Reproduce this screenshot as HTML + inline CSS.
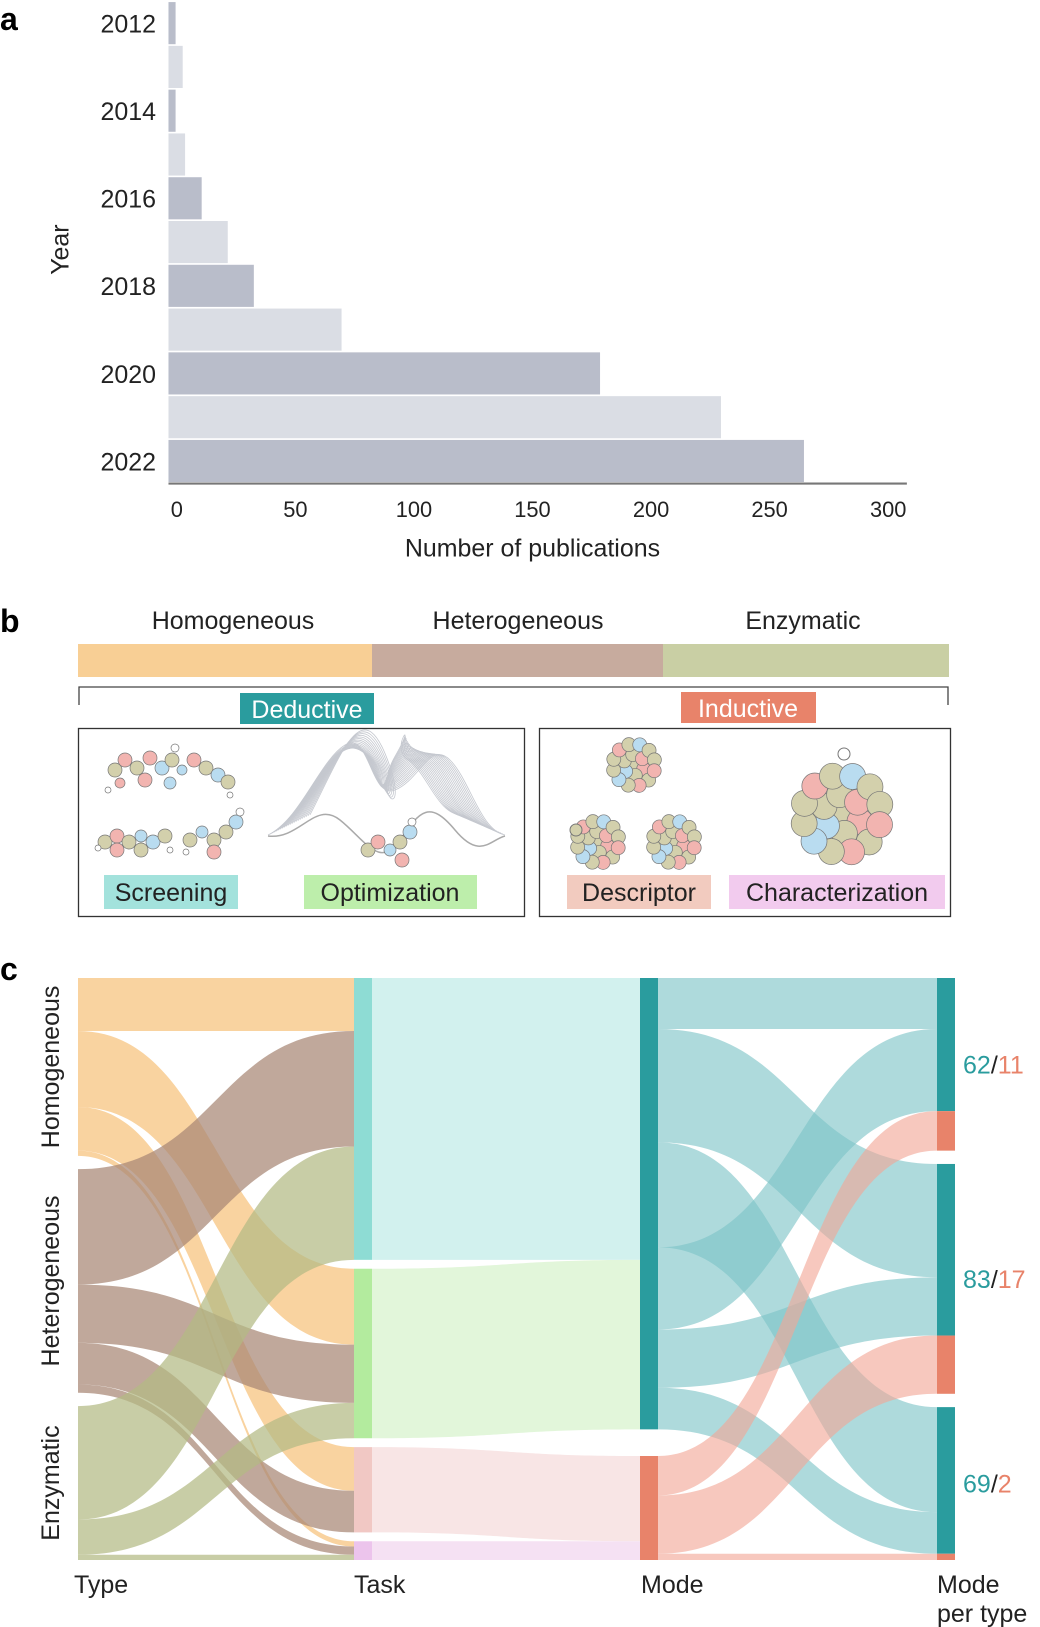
<!DOCTYPE html>
<html><head><meta charset="utf-8">
<style>
body{margin:0;background:#fff;font-family:"Liberation Sans",sans-serif;}
svg{display:block}
</style></head>
<body>
<svg id="fig" width="1040" height="1627" viewBox="0 0 1040 1627" xmlns="http://www.w3.org/2000/svg" font-family="Liberation Sans, sans-serif">
<text x="0" y="30" font-size="32" font-weight="bold">a</text>
<text x="0" y="632" font-size="32" font-weight="bold">b</text>
<text x="0" y="980" font-size="32" font-weight="bold">c</text>
<g id="panelA" transform="scale(1.04)"></g>
<g id="panelB">
 <text x="233" y="629" font-size="25" text-anchor="middle" fill="#222">Homogeneous</text>
 <text x="518" y="629" font-size="25" text-anchor="middle" fill="#222">Heterogeneous</text>
 <text x="803" y="629" font-size="25" text-anchor="middle" fill="#222">Enzymatic</text>
 <rect x="78" y="644" width="294" height="33" fill="#f8cf95"/>
 <rect x="372" y="644" width="291" height="33" fill="#c7ab9e"/>
 <rect x="663" y="644" width="286" height="33" fill="#c9cfa4"/>
 <path d="M79,705 V687 H948 V705" fill="none" stroke="#444" stroke-width="1.3"/>
 <rect x="240" y="693" width="134" height="31" fill="#2a9c9e"/>
 <text x="307" y="718" font-size="25" text-anchor="middle" fill="#fff">Deductive</text>
 <rect x="681" y="692" width="135" height="31" fill="#e8836a"/>
 <text x="748" y="717" font-size="25" text-anchor="middle" fill="#fff">Inductive</text>
 <rect x="78.5" y="728.5" width="446" height="188" fill="none" stroke="#333" stroke-width="1.3"/>
 <rect x="539.5" y="728.5" width="411" height="188" fill="none" stroke="#333" stroke-width="1.3"/>
 <g id="landscape"></g>
 <g id="mols"></g>
 <rect x="104" y="875" width="134" height="34" fill="#a3e2dc"/>
 <text x="171" y="901" font-size="25" text-anchor="middle" fill="#222">Screening</text>
 <rect x="304" y="875" width="173" height="34" fill="#bdeeab"/>
 <text x="390" y="901" font-size="25" text-anchor="middle" fill="#222">Optimization</text>
 <rect x="567" y="875" width="144" height="34" fill="#f2cbbf"/>
 <text x="639" y="901" font-size="25" text-anchor="middle" fill="#222">Descriptor</text>
 <rect x="729" y="875" width="216" height="34" fill="#f2cbee"/>
 <text x="837" y="901" font-size="25" text-anchor="middle" fill="#222">Characterization</text>
</g>
<g id="panelC"></g>
</svg>
<script>
// ---------- Panel a data ----------
const years = [2012,2013,2014,2015,2016,2017,2018,2019,2020,2021,2022];
const pubCounts = [3,6,3,7,14,25,36,73,182,233,268];
const xTicks = [0,50,100,150,200,250,300];
const yearLabels = [2012,2014,2016,2018,2020,2022];

// ---------- Panel c data (type -> task -> mode -> mode per type) ----------
const typeNames = ["Homogeneous","Heterogeneous","Enzymatic"];
const taskNames = ["Screening","Optimization","Descriptor","Characterization"];
const modeNames = ["Deductive","Inductive"];
// type->task values [type, task, value]
const typeTaskLinks = [[0,0,51],[0,1,73],[0,2,42],[0,3,5],[1,0,111],[1,1,56],[1,2,40],[1,3,8],[2,0,109],[2,1,34],[2,3,5]];
// task->mode
const taskModeLinks = [[0,0,271],[1,0,163],[2,1,82],[3,1,18]];
// mode->per-type (source order as drawn): [mode, type, value]
const modeTypeLinks = [[0,0,49],[0,1,109],[0,2,101],[0,0,79],[0,1,56],[0,2,40],[1,0,38],[1,1,56],[1,2,6]];
const deductiveCounts = [62,83,69];
const inductiveCounts = [11,17,2];

const NS="http://www.w3.org/2000/svg";
function mk(tag,attrs,parent){const e=document.createElementNS(NS,tag);for(const k in attrs)e.setAttribute(k,attrs[k]);parent.appendChild(e);return e;}

// ---------- Panel a ----------
(function(){
 const g=document.getElementById('panelA');
 const x0=162, xs=2.28, barTop=2, step=42.1, bh=40.5;
 const X=v=>x0+v*xs;
 years.forEach((y,i)=>{
  const r=mk('rect',{x:x0,y:barTop+i*step,width:X(pubCounts[i])-x0,height:bh,fill:i%2===0?'#b9bdca':'#dadde4'},g);
  
  
 });
 const ax=mk('line',{x1:x0,x2:872,y1:465,y2:465,stroke:'#777','stroke-width':2},g);
 
 
 xTicks.forEach(t=>{
  const tx=mk('text',{x:X(t)+8,y:497,'font-size':21,'text-anchor':'middle',fill:'#222'},g);tx.textContent=t;
  
  
 });
 yearLabels.forEach(y=>{
  const i=years.indexOf(y);
  const tx=mk('text',{x:150,y:barTop+i*step+bh/2+9,'font-size':24,'text-anchor':'end',fill:'#222'},g);tx.textContent=y;
  
  
 });
 const xt=mk('text',{x:512,y:535,'font-size':24,'text-anchor':'middle',fill:'#222'},g);xt.textContent='Number of publications';
 
 
 const yt=mk('text',{x:0,y:0,'font-size':24,'text-anchor':'middle',fill:'#222',transform:'translate(66,240) rotate(-90)'},g);yt.textContent='Year';
 
 
})();

// ---------- Panel b illustrations ----------
(function(){
 const L=document.getElementById('landscape');
 for(let k=0;k<22;k++){
  const dy=k*3.2, sx=k*2;
  const d=`M${268+sx},${835-dy*0.3} C${300+sx},${820-dy} ${320+sx},${760-dy} ${345+sx},${745+dy*0.2} S${370},${800} ${395},${790-dy*0.5} S${430-sx},${740+dy*0.1} ${450-sx},${760} S${480-sx},${830-dy*0.2} ${505-sx},${835-dy*0.3}`;
  mk('path',{d:d,fill:'none',stroke:'#c5c8cf','stroke-width':0.8},L);
 }
 mk('path',{d:'M268,836 C300,840 315,800 340,820 S380,870 400,840 S430,800 455,830 S490,840 505,836',fill:'none',stroke:'#aaa','stroke-width':1.5},L);
 const M=document.getElementById('mols');
 const cols=['#d3d0ac','#d3d0ac','#b9dcf0','#f2b4b0','#d3d0ac'];
 function cluster(cx,cy,r,n,rad){
  let idx=0;
  for(let ring=0;ring<n;ring++){
   const cnt=ring===0?1:ring*6, rr=ring*r*1.5;
   for(let j=0;j<cnt;j++){
    const a=j/cnt*Math.PI*2+ring*0.4;
    if(rr>rad)continue;
    mk('circle',{cx:cx+rr*Math.cos(a),cy:cy+rr*Math.sin(a),r:r,fill:cols[(idx*7+ring)%5],stroke:'#777','stroke-width':0.7},M);
    idx++;
   }
  }
 }
 function chain(pts,r){pts.forEach((p,i)=>mk('circle',{cx:p[0],cy:p[1],r:p[2]||r,fill:p[3]||cols[(i*3)%5],stroke:'#777','stroke-width':0.7},M));}
 chain([[115,770],[125,760],[137,768],[150,758,7,'#f2b4b0'],[162,768],[172,760],[182,770,5,'#b9dcf0'],[194,760,7,'#f2b4b0'],[206,768],[218,775],[228,782],[145,780],[170,783,6,'#b9dcf0'],[120,783,5,'#f2b4b0'],[108,790,3,'#fff'],[230,795,3,'#fff'],[175,748,4,'#fff']],7);
 chain([[105,842],[117,836],[129,842],[141,836,6,'#b9dcf0'],[153,842],[165,836],[117,850],[141,850],[98,848,3,'#fff'],[170,850,3,'#fff']],7);
 chain([[190,840],[202,832,6,'#b9dcf0'],[214,840],[226,832],[236,822],[214,852,7,'#f2b4b0'],[240,812,4,'#fff'],[186,852,3,'#fff']],7);
 chain([[368,850],[378,842],[390,850,6,'#b9dcf0'],[400,842],[410,832],[402,860,7,'#f2b4b0'],[412,822,4,'#fff']],7);
 cluster(634,765,7,3,22);
 cluster(598,842,7,3,22);
 cluster(674,842,7,3,22);
 mk('circle',{cx:576,cy:830,r:6,fill:'#d3d0ac',stroke:'#777'},M);
 cluster(842,814,13,3,40);
 mk('circle',{cx:844,cy:754,r:6,fill:'#fff',stroke:'#777'},M);
})();

// ---------- Panel c sankey ----------
(function(){
 const g=document.getElementById('panelC');
 const top=978, H=582, k=1.04;
 const colX=[78,354,640,937];
 const bw=18;
 function layout(vals,gap){let y=top,out=[];vals.forEach(v=>{out.push([y,y+v*k]);y+=v*k+gap;});return out;}
 const sum=(arr,f)=>arr.reduce((a,b)=>a+f(b),0);
 const typeVals=typeNames.map((_,i)=>sum(typeTaskLinks.filter(l=>l[0]===i),l=>l[2]));
 const taskVals=taskNames.map((_,i)=>sum(typeTaskLinks.filter(l=>l[1]===i),l=>l[2]));
 const modeVals=modeNames.map((_,i)=>sum(taskModeLinks.filter(l=>l[1]===i),l=>l[2]));
 const ptVals=typeNames.map((_,i)=>sum(modeTypeLinks.filter(l=>l[1]===i),l=>l[2]));
 const tot=sum(typeVals,v=>v)*k;
 const typeN=layout(typeVals,(H-tot)/2), taskN=layout(taskVals,(H-tot)/3), modeN=layout(modeVals,H-tot), ptN=layout(ptVals,(H-tot)/2);
 function band(x1,a0,a1,x2,b0,b1,fill,op,name){
  const m=(x1+x2)/2;
  const d=`M${x1},${a0} C${m},${a0} ${m},${b0} ${x2},${b0} L${x2},${b1} C${m},${b1} ${m},${a1} ${x1},${a1} Z`;
  const p=mk('path',{d:d,fill:fill,'fill-opacity':op},g);
  
  
 }
 const typeCols=['#f6c27c','#a88775','#b3ba83'];
 const so=typeN.map(n=>n[0]), to=taskN.map(n=>n[0]);
 typeTaskLinks.forEach(l=>{
  const w=l[2]*k;
  const a=so[l[0]]; so[l[0]]+=w; const b=to[l[1]]; to[l[1]]+=w;
  band(colX[0],a,a+w,colX[1],b,b+w,typeCols[l[0]],0.72,'flow-'+typeNames[l[0]].toLowerCase()+'-'+taskNames[l[1]].toLowerCase());
 });
 const taskLight=['#d2f1ee','#e2f6da','#f8e5e5','#f5e1f3'];
 const taskDark=['#8edcd4','#b3eb9e','#f1c8c4','#ecc4ec'];
 const so2=taskN.map(n=>n[0]), to2=modeN.map(n=>n[0]);
 taskModeLinks.forEach(l=>{
  const w=l[2]*k;
  const a=so2[l[0]]; so2[l[0]]+=w; const b=to2[l[1]]; to2[l[1]]+=w;
  band(colX[1]+bw,a,a+w,colX[2],b,b+w,taskLight[l[0]],1,'flow-'+taskNames[l[0]].toLowerCase()+'-'+modeNames[l[1]].toLowerCase());
 });
 const modeCols=['#2a9c9e','#e8836a'];
 const modeLight=['#7cc3c6','#f2a796'];
 const so3=modeN.map(n=>n[0]);
 const ptDed=ptN.map(n=>n[0]);
 const ptDedSum=typeNames.map((_,i)=>sum(modeTypeLinks.filter(l=>l[0]===0&&l[1]===i),l=>l[2])*k);
 const ptInd=ptN.map((n,i)=>n[0]+ptDedSum[i]);
 modeTypeLinks.forEach(l=>{
  const w=l[2]*k;
  const a=so3[l[0]]; so3[l[0]]+=w;
  let b; if(l[0]===0){b=ptDed[l[1]];ptDed[l[1]]+=w;}else{b=ptInd[l[1]];ptInd[l[1]]+=w;}
  band(colX[2]+bw,a,a+w,colX[3],b,b+w,modeLight[l[0]],0.62,'flow-'+modeNames[l[0]].toLowerCase()+'-'+typeNames[l[1]].toLowerCase());
 });
 taskN.forEach((n,i)=>{const r=mk('rect',{x:colX[1],y:n[0],width:bw,height:n[1]-n[0],fill:taskDark[i]},g);
  
  });
 modeN.forEach((n,i)=>{const r=mk('rect',{x:colX[2],y:n[0],width:bw,height:n[1]-n[0],fill:modeCols[i]},g);
  
  });
 ptN.forEach((n,i)=>{
  const r1=mk('rect',{x:colX[3],y:n[0],width:bw,height:ptDedSum[i],fill:modeCols[0]},g);
  
  
  const r2=mk('rect',{x:colX[3],y:n[0]+ptDedSum[i],width:bw,height:n[1]-n[0]-ptDedSum[i],fill:modeCols[1]},g);
  
  
  const t=mk('text',{x:963,y:(n[0]+n[1])/2+9,'font-size':25,fill:'#2a9c9e'},g);
  t.innerHTML=deductiveCounts[i]+'<tspan fill="#222">/</tspan><tspan fill="#e8836a">'+inductiveCounts[i]+'</tspan>';
  
  
  const tl=mk('text',{x:0,y:0,'font-size':25,'text-anchor':'middle',fill:'#222',transform:`translate(59,${(typeN[i][0]+typeN[i][1])/2}) rotate(-90)`},g);
  tl.textContent=typeNames[i];
  
  
 });
 [['Type',74,1593],['Task',354,1593],['Mode',641,1593],['Mode',937,1593],['per type',937,1622]].forEach(a=>{
  const t=mk('text',{x:a[1],y:a[2],'font-size':25,fill:'#222'},g);t.textContent=a[0];
  
  
 });
})();
</script>
</body></html>
